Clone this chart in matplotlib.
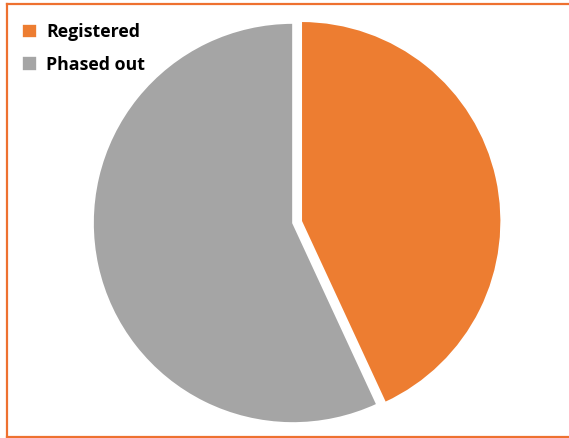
import matplotlib
matplotlib.use("Agg")
import matplotlib.pyplot as plt
from matplotlib.lines import Line2D

# share of registered vs phased out products
labels = ["Registered", "Phased out"]
shares = [43.1, 56.9]
colors = ["#ED7D31", "#A5A5A5"]

W, H = 569, 438
fig = plt.figure(figsize=(W / 100, H / 100), dpi=100)

# pie axes: centre at (293, 223) px, radius 200 px
cx, cy, r = 293, H - 223, 200
ax = fig.add_axes([(cx - r) / W, (cy - r) / H, 2 * r / W, 2 * r / H])
wedges, _ = ax.pie(shares, colors=colors, startangle=90, counterclock=False,
                   explode=[0.042, 0], radius=1,
                   wedgeprops=dict(edgecolor="white", linewidth=1.2))
ax.set_xlim(-1, 1)
ax.set_ylim(-1, 1)
ax.axis("off")

fig.legend(wedges, labels, loc="upper left", bbox_to_anchor=(22 / W, 1 - 23 / H),
           frameon=False, borderpad=0, borderaxespad=0,
           handlelength=0.85, handleheight=0.85,
           handletextpad=0.5, labelspacing=0.82,
           prop=dict(family="Open Sans", weight="bold", size=12.8))

# orange outline on left, top and bottom
border = "#EE7130"
fig.add_artist(Line2D([7 / W, 7 / W], [1 / H, 1 - 3.5 / H], color=border, lw=1.6))
fig.add_artist(Line2D([7 / W, 1], [1 - 3.5 / H, 1 - 3.5 / H], color=border, lw=1.6))
fig.add_artist(Line2D([7 / W, 1], [1 / H, 1 / H], color=border, lw=1.6))

fig.savefig("out.png", dpi=100)
